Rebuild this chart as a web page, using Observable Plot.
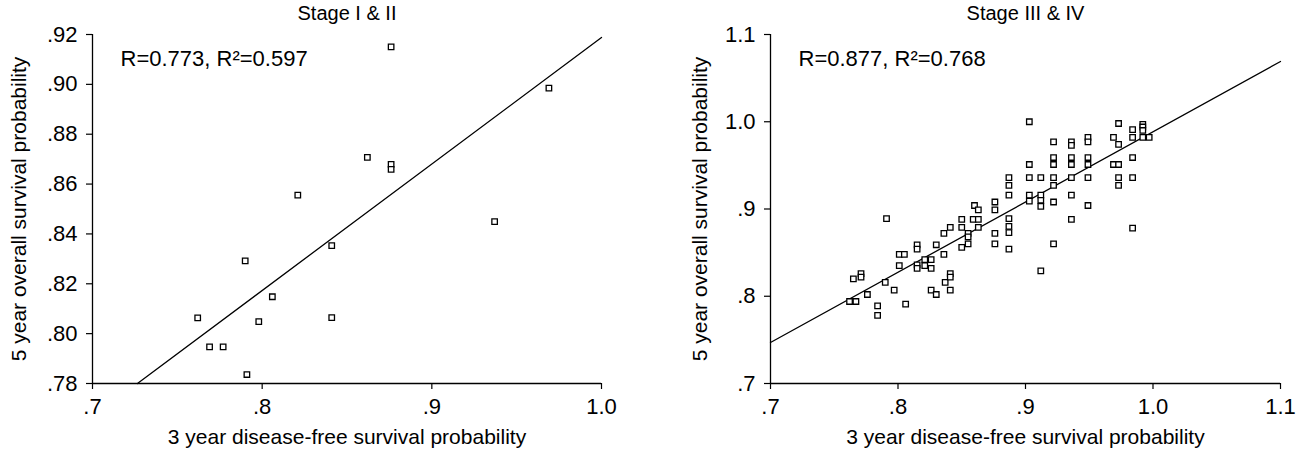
<!DOCTYPE html>
<html><head><meta charset="utf-8">
<script src="https://cdn.jsdelivr.net/npm/d3@7"></script>
<script src="https://cdn.jsdelivr.net/npm/@observablehq/plot@0.6"></script>
<style>
body{margin:0;background:#fff;}
#wrap{display:flex;width:1302px;height:454px;}
</style></head><body><div id="wrap"></div>
<script>
const xLabel = "3 year disease-free survival probability";
const yLabel = "5 year overall survival probability";
const titles = ["Stage I & II", "Stage III & IV"];
const stats = ["R=0.773, R²=0.597", "R=0.877, R²=0.768"];

const xTicksA = [0.7, 0.8, 0.9, 1.0];
const yTicksA = [0.78, 0.80, 0.82, 0.84, 0.86, 0.88, 0.90, 0.92];
const xTicksB = [0.7, 0.8, 0.9, 1.0, 1.1];
const yTicksB = [0.7, 0.8, 0.9, 1.0, 1.1];

// Stage I & II
const dfsA = [0.821, 0.841, 0.790, 0.806, 0.762, 0.798, 0.841, 0.769, 0.777, 0.791, 0.876, 0.862, 0.876, 0.876, 0.937, 0.969];
const osA  = [0.8556, 0.8353, 0.8292, 0.8148, 0.8063, 0.8048, 0.8064, 0.7947, 0.7947, 0.7836, 0.915, 0.8707, 0.8679, 0.8659, 0.8449, 0.8985];

// Stage III & IV
const dfsB = [0.762,0.767,0.765,0.771,0.771,0.776,0.784,0.784,0.790,0.791,0.797,0.801,0.805,0.801,0.806,
  0.815,0.815,0.815,0.815, 0.821,0.821,0.826,0.826, 0.826,0.830,0.830, 0.836,0.836,0.837,
  0.841,0.841,0.841,0.841, 0.850,0.850,0.850, 0.855,0.855,0.855, 0.860,0.863,0.859,0.863,0.863,
  0.876,0.876,0.876,0.876, 0.887,0.887,0.887,0.887,0.887,0.887,0.887,
  0.903,0.903,0.903,0.903,0.903, 0.912,0.912,0.912,0.912,0.912,
  0.922,0.922,0.922,0.922,0.922,0.922,0.922, 0.936,0.936,0.936,0.936,0.936,0.936,0.936,
  0.949,0.949,0.949,0.949,0.949,0.949, 0.969,0.969, 0.973,0.973,0.973,0.973,0.973,
  0.984,0.984,0.984,0.984,0.984, 0.992,0.992,0.992,0.992, 0.997];
const osB = [0.794,0.794,0.820,0.826,0.822,0.802,0.789,0.778,0.816,0.889,0.807,0.848,0.848,0.835,0.791,
  0.859,0.854,0.836,0.832, 0.842,0.835,0.842,0.832, 0.807,0.802,0.859, 0.872,0.848,0.816,
  0.879,0.826,0.822,0.807, 0.888,0.879,0.856, 0.872,0.868,0.860, 0.904,0.899,0.888,0.888,0.879,
  0.908,0.899,0.872,0.860, 0.936,0.927,0.916,0.889,0.880,0.873,0.854,
  1.000,0.951,0.936,0.916,0.909, 0.936,0.916,0.910,0.903,0.829,
  0.977,0.959,0.951,0.936,0.927,0.908,0.860, 0.977,0.973,0.959,0.951,0.936,0.916,0.888,
  0.982,0.977,0.959,0.951,0.936,0.904, 0.982,0.951, 0.998,0.974,0.951,0.936,0.927,
  0.991,0.982,0.959,0.936,0.878, 0.997,0.994,0.990,0.982, 0.982];

// fitted regression lines (intercept, slope, x-extent drawn)
const fitA = {intercept: 0.4113, slope: 0.5075, from: 0.7265, to: 1.0};
const fitB = {intercept: 0.1835, slope: 0.805, from: 0.7, to: 1.1};

const font = "'Liberation Sans', Arial, Helvetica, sans-serif";

function panel({xs, ys, fit, xTicks, yTicks, title, stat, marginLeft, marginRight, yLabelDx}) {
  const pts = xs.map((x, i) => ({x, y: ys[i]}));
  const line = [fit.from, fit.to].map(x => ({x, y: fit.intercept + fit.slope * x}));
  const xd = [xTicks[0], xTicks[xTicks.length-1]];
  const yd = [yTicks[0], yTicks[yTicks.length-1]];
  const yFmt = yTicks[1] - yTicks[0] < 0.05 ? ".2f" : ".1f";
  return Plot.plot({
    width: 651, height: 454,
    marginLeft, marginRight, marginTop: 34, marginBottom: 71,
    style: {fontFamily: font, fontSize: "21px", color: "black", background: "white"},
    x: {domain: xd},
    y: {domain: yd},
    marks: [
      Plot.axisX({ticks: xTicks, tickFormat: d => d3.format(".1f")(d).replace(/^0/, ""), tickSize: 6, tickPadding: 9, label: null, strokeWidth: 1.2, fontSize: 22}),
      Plot.axisY({ticks: yTicks, tickFormat: d => d3.format(yFmt)(d).replace(/^0/, ""), tickSize: 6, tickPadding: 9, label: null, strokeWidth: 1.2, fontSize: 22}),
      Plot.ruleX([xd[0]], {stroke: "black", strokeWidth: 1.3}),
      Plot.ruleY([yd[0]], {stroke: "black", strokeWidth: 1.3}),
      Plot.line(line, {x: "x", y: "y", stroke: "black", strokeWidth: 1.3}),
      Plot.dot(pts, {x: "x", y: "y", symbol: "square", r: 3.1, stroke: "black", fill: "white", strokeWidth: 1.3}),
      Plot.text([title], {frameAnchor: "top", dy: -21, fontSize: 20, lineAnchor: "middle", fill: "black"}),
      Plot.text([stat], {frameAnchor: "top-left", dx: 28, dy: 16, fontSize: 22, lineAnchor: "top", textAnchor: "start", fill: "black"}),
      Plot.text([xLabel], {frameAnchor: "bottom", dy: 54, fontSize: 21, lineAnchor: "middle", fill: "black"}),
      Plot.text([yLabel], {frameAnchor: "left", dx: yLabelDx, rotate: -90, fontSize: 21, lineAnchor: "middle", textAnchor: "middle", fill: "black"})
    ]
  });
}

const wrap = document.getElementById("wrap");
wrap.append(panel({xs: dfsA, ys: osA, fit: fitA, xTicks: xTicksA, yTicks: yTicksA, title: titles[0], stat: stats[0], marginLeft: 92, marginRight: 50, yLabelDx: -73}));
wrap.append(panel({xs: dfsB, ys: osB, fit: fitB, xTicks: xTicksB, yTicks: yTicksB, title: titles[1], stat: stats[1], marginLeft: 119, marginRight: 22, yLabelDx: -70}));
</script></body></html>
